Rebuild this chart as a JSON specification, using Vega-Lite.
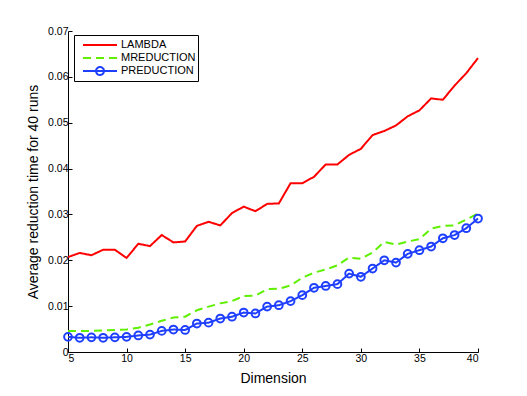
{
  "$schema": "https://vega.github.io/schema/vega-lite/v6.json",
  "width": 410,
  "height": 321,
  "autosize": {"type": "none"},
  "padding": {"left": 68, "top": 31, "right": 49, "bottom": 44},
  "background": "white",
  "config": {
    "font": "Liberation Sans",
    "view": {"stroke": null},
    "axis": {"domainColor": "black", "tickColor": "black", "labelColor": "black", "titleColor": "black", "labelFont": "Liberation Sans", "titleFont": "Liberation Sans", "labelFontSize": 10.5, "titleFontSize": 14, "titleFontWeight": "normal", "grid": false, "tickSize": -4, "domainWidth": 1}
  },
  "data": {"values": [
    {"d":5,"s":"LAMBDA","v":0.0207},{"d":6,"s":"LAMBDA","v":0.0216},{"d":7,"s":"LAMBDA","v":0.0211},{"d":8,"s":"LAMBDA","v":0.0223},{"d":9,"s":"LAMBDA","v":0.0223},{"d":10,"s":"LAMBDA","v":0.0205},{"d":11,"s":"LAMBDA","v":0.0236},{"d":12,"s":"LAMBDA","v":0.0231},{"d":13,"s":"LAMBDA","v":0.0255},{"d":14,"s":"LAMBDA","v":0.0239},{"d":15,"s":"LAMBDA","v":0.0241},{"d":16,"s":"LAMBDA","v":0.0275},{"d":17,"s":"LAMBDA","v":0.0284},{"d":18,"s":"LAMBDA","v":0.0276},{"d":19,"s":"LAMBDA","v":0.0303},{"d":20,"s":"LAMBDA","v":0.0317},{"d":21,"s":"LAMBDA","v":0.0307},{"d":22,"s":"LAMBDA","v":0.0323},{"d":23,"s":"LAMBDA","v":0.0324},{"d":24,"s":"LAMBDA","v":0.0368},{"d":25,"s":"LAMBDA","v":0.0368},{"d":26,"s":"LAMBDA","v":0.0382},{"d":27,"s":"LAMBDA","v":0.0409},{"d":28,"s":"LAMBDA","v":0.0409},{"d":29,"s":"LAMBDA","v":0.0430},{"d":30,"s":"LAMBDA","v":0.0443},{"d":31,"s":"LAMBDA","v":0.0473},{"d":32,"s":"LAMBDA","v":0.0482},{"d":33,"s":"LAMBDA","v":0.0494},{"d":34,"s":"LAMBDA","v":0.0514},{"d":35,"s":"LAMBDA","v":0.0527},{"d":36,"s":"LAMBDA","v":0.0553},{"d":37,"s":"LAMBDA","v":0.0550},{"d":38,"s":"LAMBDA","v":0.0581},{"d":39,"s":"LAMBDA","v":0.0608},{"d":40,"s":"LAMBDA","v":0.0641},
    {"d":5,"s":"MREDUCTION","v":0.0046},{"d":6,"s":"MREDUCTION","v":0.0046},{"d":7,"s":"MREDUCTION","v":0.0046},{"d":8,"s":"MREDUCTION","v":0.0047},{"d":9,"s":"MREDUCTION","v":0.0048},{"d":10,"s":"MREDUCTION","v":0.0049},{"d":11,"s":"MREDUCTION","v":0.0053},{"d":12,"s":"MREDUCTION","v":0.0060},{"d":13,"s":"MREDUCTION","v":0.0068},{"d":14,"s":"MREDUCTION","v":0.0075},{"d":15,"s":"MREDUCTION","v":0.0077},{"d":16,"s":"MREDUCTION","v":0.0091},{"d":17,"s":"MREDUCTION","v":0.0099},{"d":18,"s":"MREDUCTION","v":0.0106},{"d":19,"s":"MREDUCTION","v":0.0111},{"d":20,"s":"MREDUCTION","v":0.0122},{"d":21,"s":"MREDUCTION","v":0.0123},{"d":22,"s":"MREDUCTION","v":0.0137},{"d":23,"s":"MREDUCTION","v":0.0138},{"d":24,"s":"MREDUCTION","v":0.0145},{"d":25,"s":"MREDUCTION","v":0.0162},{"d":26,"s":"MREDUCTION","v":0.0173},{"d":27,"s":"MREDUCTION","v":0.0180},{"d":28,"s":"MREDUCTION","v":0.0189},{"d":29,"s":"MREDUCTION","v":0.0206},{"d":30,"s":"MREDUCTION","v":0.0203},{"d":31,"s":"MREDUCTION","v":0.0217},{"d":32,"s":"MREDUCTION","v":0.0240},{"d":33,"s":"MREDUCTION","v":0.0234},{"d":34,"s":"MREDUCTION","v":0.0241},{"d":35,"s":"MREDUCTION","v":0.0246},{"d":36,"s":"MREDUCTION","v":0.0269},{"d":37,"s":"MREDUCTION","v":0.0275},{"d":38,"s":"MREDUCTION","v":0.0276},{"d":39,"s":"MREDUCTION","v":0.0289},{"d":40,"s":"MREDUCTION","v":0.0302},
    {"d":5,"s":"PREDUCTION","v":0.0033},{"d":6,"s":"PREDUCTION","v":0.0031},{"d":7,"s":"PREDUCTION","v":0.0032},{"d":8,"s":"PREDUCTION","v":0.0031},{"d":9,"s":"PREDUCTION","v":0.0032},{"d":10,"s":"PREDUCTION","v":0.0033},{"d":11,"s":"PREDUCTION","v":0.0036},{"d":12,"s":"PREDUCTION","v":0.0038},{"d":13,"s":"PREDUCTION","v":0.0046},{"d":14,"s":"PREDUCTION","v":0.0049},{"d":15,"s":"PREDUCTION","v":0.0048},{"d":16,"s":"PREDUCTION","v":0.0062},{"d":17,"s":"PREDUCTION","v":0.0064},{"d":18,"s":"PREDUCTION","v":0.0073},{"d":19,"s":"PREDUCTION","v":0.0077},{"d":20,"s":"PREDUCTION","v":0.0086},{"d":21,"s":"PREDUCTION","v":0.0084},{"d":22,"s":"PREDUCTION","v":0.0099},{"d":23,"s":"PREDUCTION","v":0.0102},{"d":24,"s":"PREDUCTION","v":0.0111},{"d":25,"s":"PREDUCTION","v":0.0124},{"d":26,"s":"PREDUCTION","v":0.0140},{"d":27,"s":"PREDUCTION","v":0.0144},{"d":28,"s":"PREDUCTION","v":0.0148},{"d":29,"s":"PREDUCTION","v":0.0171},{"d":30,"s":"PREDUCTION","v":0.0164},{"d":31,"s":"PREDUCTION","v":0.0182},{"d":32,"s":"PREDUCTION","v":0.0200},{"d":33,"s":"PREDUCTION","v":0.0195},{"d":34,"s":"PREDUCTION","v":0.0214},{"d":35,"s":"PREDUCTION","v":0.0222},{"d":36,"s":"PREDUCTION","v":0.0230},{"d":37,"s":"PREDUCTION","v":0.0248},{"d":38,"s":"PREDUCTION","v":0.0255},{"d":39,"s":"PREDUCTION","v":0.0270},{"d":40,"s":"PREDUCTION","v":0.0291}
  ]},
  "encoding": {
    "x": {"field": "d", "type": "quantitative", "title": "Dimension", "scale": {"domain": [5, 40], "nice": false, "zero": false}, "axis": {"values": [5,10,15,20,25,30,35,40], "labelPadding": 5, "titlePadding": 8}},
    "y": {"field": "v", "type": "quantitative", "title": "Average reduction time for 40 runs", "scale": {"domain": [0, 0.07], "nice": false}, "axis": {"values": [0,0.01,0.02,0.03,0.04,0.05,0.06,0.07], "format": "~g", "labelPadding": 4, "titlePadding": 7}}
  },
  "layer": [
    {
      "mark": {"type": "line", "strokeWidth": 2},
      "encoding": {
        "color": {"field": "s", "type": "nominal", "title": null, "scale": {"domain": ["LAMBDA","MREDUCTION","PREDUCTION"], "range": ["#ff0000","#5ef000","#1f3fff"]},
          "legend": {"orient": "none", "legendX": 6, "legendY": 4, "symbolType": "M-2.43,0L2.43,0", "symbolSize": 196, "symbolStrokeWidth": 2, "symbolFillColor": "transparent", "symbolOffset": 16, "labelFontSize": 11, "labelFont": "Liberation Sans", "labelColor": "black", "strokeColor": "black", "fillColor": "white", "padding": 2, "rowPadding": 0, "labelOffset": 13,
            "encode": {"symbols": {"update": {"fill": {"value": "transparent"}, "shape": {"signal": "datum.value === 'PREDUCTION' ? 'M-2.43,0L2.43,0M0.57,0A0.57,0.57,0,1,1,-0.57,0A0.57,0.57,0,1,1,0.57,0' : 'M-2.43,0L2.43,0'"}}}}}},
        "strokeDash": {"field": "s", "type": "nominal", "title": null, "scale": {"domain": ["LAMBDA","MREDUCTION","PREDUCTION"], "range": [[1,0],[8,5],[1,0]]}}
      }
    },
    {
      "transform": [{"filter": "datum.s === 'PREDUCTION'"}],
      "mark": {"type": "point", "filled": false, "size": 60, "strokeWidth": 2, "color": "#1f3fff", "opacity": 1}
    }
  ]
}
